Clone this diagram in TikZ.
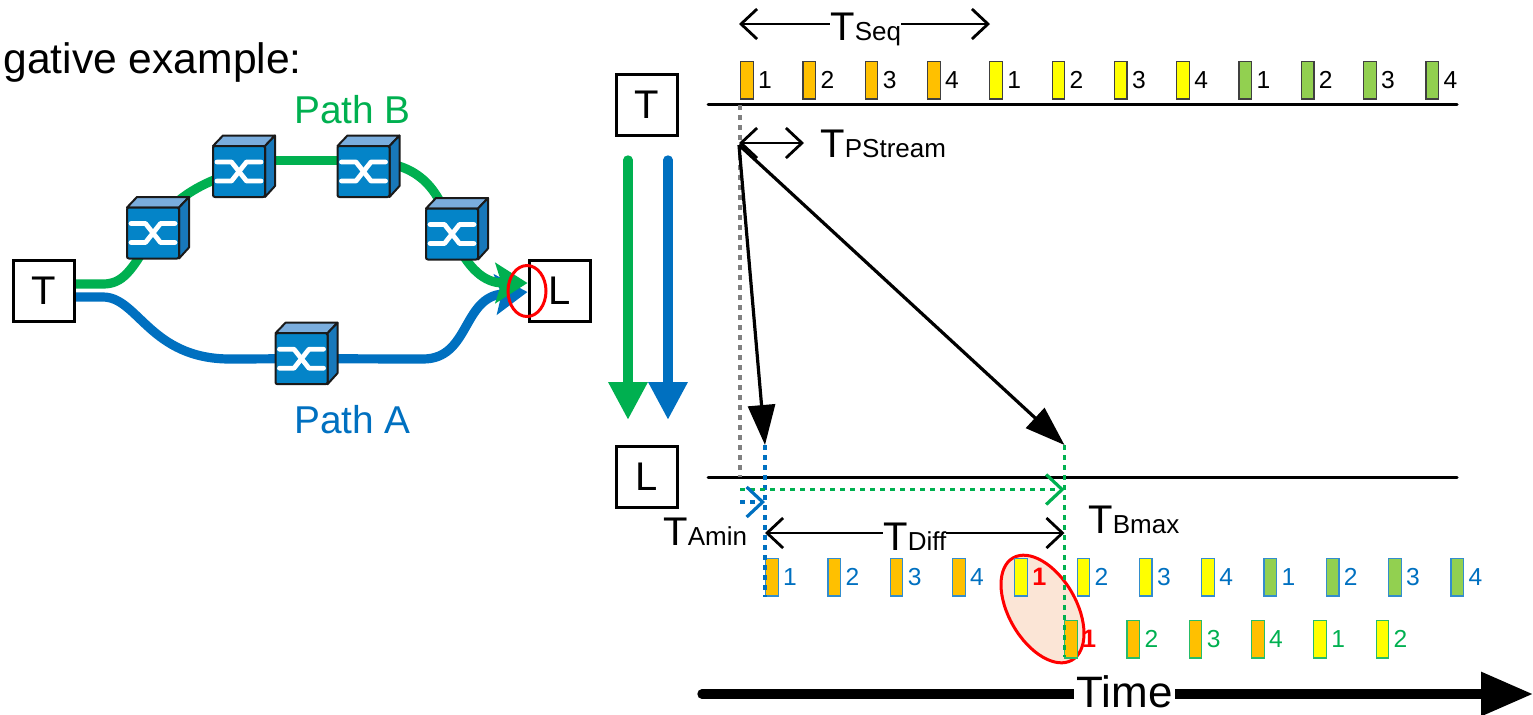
\documentclass[tikz,border=0pt]{standalone}
\usepackage{xcolor}
\usepackage{fontspec}
\setmainfont{Liberation Sans}
\usepackage{tikz}
\usetikzlibrary{arrows.meta,positioning}

\definecolor{pathgreen}{HTML}{00B050}
\definecolor{pathblue}{HTML}{0070C0}
\definecolor{pktorange}{HTML}{FFC000}
\definecolor{pktyellow}{HTML}{FFFF00}
\definecolor{pktlime}{HTML}{92D050}
\definecolor{swfront}{HTML}{0484C8}
\definecolor{swtop}{HTML}{7AADDD}
\definecolor{swside}{HTML}{1878BA}
\definecolor{swline}{HTML}{1A1A1A}
\definecolor{blobfill}{HTML}{FBE5D6}

\newcommand{\tsub}[1]{T{\fontsize{13pt}{15pt}\selectfont #1}}

\tikzset{
  endbox/.style={draw,fill=white,line width=1.5pt,minimum size=30.5pt,inner sep=0pt,font=\fontsize{20pt}{22pt}\selectfont},
  txt/.style={anchor=base west,inner sep=0pt},
  bigtxt/.style={txt,font=\fontsize{20pt}{22pt}\selectfont},
  gaptxt/.style={bigtxt,fill=white},
  pkt/.style={draw=black!75,fill=#1,line width=.6pt,minimum width=6.3pt,minimum height=18.7pt,inner sep=0pt,anchor=north west},
  pktnum/.style={inner sep=0pt,font=\fontsize{12.3pt}{14pt}\selectfont},
  timeline/.style={line width=1.5pt,line cap=round},
  span/.style={line width=1.4pt,{Straight Barb[length=8pt,width=15pt]}-{Straight Barb[length=8pt,width=15pt]}},
  hop/.style={line width=1.6pt,-{Triangle[length=20pt,width=13.5pt]}},
  bigarrow/.style={line width=4.7pt,line cap=round,-{Triangle[length=19pt,width=18.5pt]}},
  dashline/.style={line width=1.6pt,dash pattern=on 2.5pt off 2.5pt},
  dasharrow/.style={dashline,-{Straight Barb[length=8pt,width=15pt]}},
  pathline/.style={line width=4.6pt},
  pathend/.style={pathline,-{Stealth[length=16pt,width=20pt,inset=3pt]}},
  swbox/.pic={
    \filldraw[draw=swline,fill=swtop,line width=1pt,line join=round] (-26,-25.5) -- (-16,-36) -- (36,-36) -- (26,-25.5) -- cycle;
    \filldraw[draw=swline,fill=swside,line width=1pt,line join=round] (26,-25.5) -- (36,-36) -- (36,14.5) -- (26,25.5) -- cycle;
    \filldraw[draw=swline,fill=swfront,line width=1pt,rounded corners=1pt] (-26,-25.5) rectangle (26,25.5);
    \draw[white,line width=2.4pt,line cap=round,line join=round] (-22,-9.5) -- (-7.5,-9.5) -- (7.5,9.5) -- (22,9.5);
    \draw[white,line width=2.4pt,line cap=round,line join=round] (-22,9.5) -- (-7.5,9.5) -- (7.5,-9.5) -- (22,-9.5);
  }
}

\begin{document}
\begin{tikzpicture}[x=.5pt,y=-.5pt]

  \useasboundingbox (0,0) rectangle (1533,714);

  \node[txt,font=\fontsize{21.3pt}{23pt}\selectfont] (title) at (3,73) {gative example:};
  \node[txt,text=pathgreen,font=\fontsize{19.4pt}{21pt}\selectfont] (pathB) at (294,123) {Path B};
  \node[txt,text=pathblue,font=\fontsize{19.4pt}{21pt}\selectfont] (pathA) at (294,433) {Path A};

  \node[endbox] (srcT) at (44,291) {T};
  \node[endbox] (dstL) at (560,291) {L};

  \coordinate (srcG) at (76,284);
  \coordinate (srcB) at (76,297);
  \coordinate (dstG) at (527.5,283);
  \coordinate (dstB) at (527.5,292);

  \coordinate (sw1) at (153,233);
  \coordinate (sw2) at (239,171.5);
  \coordinate (sw3) at (363.5,171.5);
  \coordinate (sw4) at (452,234);
  \coordinate (sw5) at (301.5,358.7);

  \draw[pathline,pathblue] (srcB) -- (103,297) .. controls (138,297) and (150,359) .. (230,359) -- (sw5);
  \draw[pathend,pathblue] (sw5) -- (423,359) .. controls (470,359) and (462,297) .. (dstB);

  \draw[pathline,pathgreen] (srcG) -- (103,284) .. controls (122,284) and (132,272) .. (sw1);
  \draw[pathline,pathgreen] (sw1) .. controls (165,208) and (190,185) .. (sw2);
  \draw[pathline,pathgreen] ([yshift=5.4pt]sw2) -- ([yshift=5.4pt]sw3);
  \draw[pathline,pathgreen] ([yshift=5.4pt]sw3) .. controls (412,162) and (438,180) .. (sw4);
  \draw[pathend,pathgreen] (sw4) .. controls (468,270) and (485,283) .. (dstG);

  \foreach \n in {1,...,5}{
    \pic at (sw\n) {swbox};
  }

  \draw[red,line width=1.5pt] (527,291) circle[x radius=19,y radius=25.5];

  \coordinate (bigG) at (628,160);
  \coordinate (bigGend) at (628,420);
  \coordinate (bigB) at (668,160);
  \coordinate (bigBend) at (668,420);
  \draw[bigarrow,pathgreen] (bigG) -- (bigGend);
  \draw[bigarrow,pathblue] (bigB) -- (bigBend);

  \node[endbox] (lineT) at (647,104.5) {T};
  \node[endbox] (lineL) at (647,477) {L};

  \coordinate (topA) at (708,104.5);
  \coordinate (topB) at (1457,104.5);
  \coordinate (lowA) at (708,477);
  \coordinate (lowB) at (1457,477);
  \draw[timeline] (topA) -- (topB);
  \draw[timeline] (lowA) -- (lowB);

  \foreach \c [count=\g from 0] in {pktorange,pktyellow,pktlime}{
    \foreach \d in {1,2,3,4}{
      \pgfmathsetmacro\px{740+62.3*(\g*4+\d-1)}
      \node[pkt=\c] (top\g\d) at (\px,61) {};
      \node[pktnum,right=2pt of top\g\d] (topn\g\d) {\d};
    }
  }

  \coordinate (grayA) at (740,105);
  \coordinate (grayB) at (740,477);
  \draw[dashline,gray] (grayA) -- (grayB);

  \coordinate (sendT) at (739,145);
  \coordinate (arrA) at (765,445);
  \coordinate (arrB) at (1064.5,445);
  \draw[hop] (sendT) -- (arrA);
  \draw[hop] (sendT) -- (arrB);

  \filldraw[draw=red,fill=blobfill,line width=1.5pt,rotate around={-60:(1042.5,609)}] (1042.5,609) circle[x radius=59,y radius=33.7];

  \foreach \c [count=\g from 0] in {pktorange,pktyellow,pktlime}{
    \foreach \d in {1,2,3,4}{
      \pgfmathsetmacro\px{765+62.3*(\g*4+\d-1)}
      \node[pkt=\c,draw=pathblue!80] (rowA\g\d) at (\px,558) {};
      \ifnum\g\d=11
        \node[pktnum,text=red,font=\fontsize{12.6pt}{14pt}\bfseries,right=2pt of rowA\g\d] (numA\g\d) {\d};
      \else
        \node[pktnum,text=pathblue,right=2pt of rowA\g\d] (numA\g\d) {\d};
      \fi
    }
  }

  \foreach \i/\c/\d in {0/pktorange/1,1/pktorange/2,2/pktorange/3,3/pktorange/4,4/pktyellow/1,5/pktyellow/2}{
    \pgfmathsetmacro\px{1064+62.3*\i}
    \node[pkt=\c,draw=pathgreen!85] (rowB\i) at (\px,620) {};
    \ifnum\i=0
      \node[pktnum,text=red,font=\fontsize{12.6pt}{14pt}\bfseries,right=2pt of rowB\i] (numB\i) {\d};
    \else
      \node[pktnum,text=pathgreen,right=2pt of rowB\i] (numB\i) {\d};
    \fi
  }

  \coordinate (blueA) at (765,445);
  \coordinate (blueB) at (765,597);
  \coordinate (greenA) at (1064.5,445);
  \coordinate (greenB) at (1064.5,657);
  \draw[dashline,pathblue] (blueA) -- (blueB);
  \draw[dashline,pathgreen] (greenA) -- (greenB);

  \coordinate (minA) at (740,502);
  \coordinate (minB) at (765,502);
  \coordinate (maxA) at (740,489.5);
  \coordinate (maxB) at (1064.5,489.5);
  \draw[dasharrow,pathgreen] (maxA) -- (maxB);
  \draw[dasharrow,pathblue] (minA) -- (minB);

  \coordinate (seqA) at (739,24);
  \coordinate (seqB) at (990,24);
  \draw[span] (seqA) -- (seqB);
  \node[gaptxt] (tSeq) at (830,40) {\tsub{Seq}};

  \coordinate (streamA) at (739,143);
  \coordinate (streamB) at (804,143);
  \draw[span] (streamA) -- (streamB);
  \node[bigtxt] (tStream) at (820,157) {\tsub{PStream}};

  \coordinate (diffA) at (765,533);
  \coordinate (diffB) at (1064.5,533);
  \draw[span] (diffA) -- (diffB);
  \node[gaptxt] (tDiff) at (883,550) {\tsub{Diff}};

  \node[bigtxt] (tAmin) at (663,545) {\tsub{Amin}};
  \node[bigtxt] (tBmax) at (1088,533) {\tsub{Bmax}};

  \coordinate (timeA) at (702,694);
  \coordinate (timeB) at (1533,694);
  \draw[line width=4.7pt,line cap=round,-{Triangle[length=26pt,width=21pt]}] (timeA) -- (timeB);
  \node[txt,fill=white,inner xsep=1pt,font=\fontsize{22pt}{24pt}\selectfont] (time) at (1074,707) {Time};

\end{tikzpicture}
\end{document}
